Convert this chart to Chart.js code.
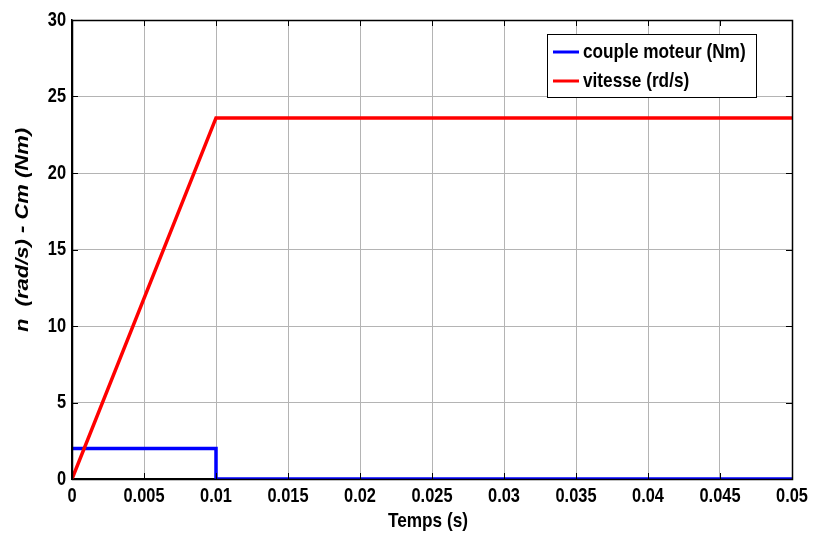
<!DOCTYPE html>
<html>
<head>
<meta charset="utf-8">
<script src="https://cdn.jsdelivr.net/npm/chart.js@4.4.1/dist/chart.umd.min.js"></script>
<style>
  html, body { margin: 0; padding: 0; background: #fff; }
  #wrap { width: 813px; height: 535px; }
</style>
</head>
<body>
<div id="wrap"><canvas id="motor_chart"></canvas></div>
<script>
// data
const coupleTime = [0, 0.01, 0.01, 0.05];
const coupleValues = [2, 2, 0, 0];
const vitesseTime = [0, 0.01, 0.05];
const vitesseValues = [0, 23.6, 23.6];

const xTicks = [0, 0.005, 0.01, 0.015, 0.02, 0.025, 0.03, 0.035, 0.04, 0.045, 0.05];
const xTickLabels = ['0', '0.005', '0.01', '0.015', '0.02', '0.025', '0.03', '0.035', '0.04', '0.045', '0.05'];
const yTicks = [0, 5, 10, 15, 20, 25, 30];
const yTickLabels = ['0', '5', '10', '15', '20', '25', '30'];

const seriesLabels = ['couple moteur (Nm)', 'vitesse (rd/s)'];
const seriesColors = ['#0000ff', '#ff0000'];
const xTitle = 'Temps (s)';
const yTitle = 'n  (rad/s) - Cm (Nm)';

const FONT = "'Liberation Sans', Arial, sans-serif";
const NARROW = 0.82; // the original figure uses a condensed face

function zip(xs, ys) {
    return xs.map(function (x, i) { return { x: x, y: ys[i] }; });
}

// narrow text helper
function narrowText(c, txt, x, y, font, align, rot) {
    c.save();
    c.translate(x, y);
    if (rot) {
        c.rotate(rot);
        c.scale(1, NARROW);
    } else {
        c.scale(NARROW, 1);
    }
    c.font = font;
    c.textAlign = align;
    c.textBaseline = 'middle';
    c.fillStyle = '#000';
    c.fillText(txt, 0, 0);
    c.restore();
}

// box + inward ticks + labels + legend, matlab style
const matlabBox = {
    id: 'matlabBox',
    afterDraw: function (chart) {
        const c = chart.ctx;
        const a = chart.chartArea;
        const xs = chart.scales.x, ys = chart.scales.y;
        c.save();
        c.strokeStyle = '#000';
        c.lineWidth = 1;
        c.beginPath();
        xTicks.forEach(function (v) {
            const px = Math.round(xs.getPixelForValue(v)) + 0.5;
            c.moveTo(px, a.bottom); c.lineTo(px, a.bottom - 6);
            c.moveTo(px, a.top); c.lineTo(px, a.top + 6);
        });
        yTicks.forEach(function (v) {
            const py = Math.round(ys.getPixelForValue(v)) + 0.5;
            c.moveTo(a.left, py); c.lineTo(a.left + 6, py);
            c.moveTo(a.right, py); c.lineTo(a.right - 6, py);
        });
        c.stroke();
        c.lineWidth = 1.5;
        c.strokeRect(Math.round(a.left) + 0.5, Math.round(a.top) + 0.5, Math.round(a.right - a.left), Math.round(a.bottom - a.top));

        // tick labels
        const tickFont = 'bold 20px ' + FONT;
        xTicks.forEach(function (v, i) {
            narrowText(c, xTickLabels[i], xs.getPixelForValue(v), a.bottom + 17, tickFont, 'center');
        });
        yTicks.forEach(function (v, i) {
            narrowText(c, yTickLabels[i], a.left - 6, ys.getPixelForValue(v), tickFont, 'right');
        });

        // axis titles
        narrowText(c, xTitle, (a.left + a.right) / 2 - 4, 521, 'bold 21px ' + FONT, 'center');
        narrowText(c, yTitle, 23, 230, 'italic bold 22px ' + FONT, 'center', -Math.PI / 2);

        // legend
        const lx = 547, ly = 34, lw = 209, lh = 63;
        c.fillStyle = '#fff';
        c.fillRect(lx, ly, lw, lh);
        c.strokeStyle = '#000';
        c.lineWidth = 1;
        c.strokeRect(lx + 0.5, ly + 0.5, lw, lh);
        seriesLabels.forEach(function (lab, i) {
            const yy = ly + 18 + i * 29;
            c.strokeStyle = seriesColors[i];
            c.lineWidth = 3;
            c.beginPath();
            c.moveTo(lx + 6, yy); c.lineTo(lx + 32, yy);
            c.stroke();
            narrowText(c, lab, lx + 36, yy, 'bold 21px ' + FONT, 'left');
        });
        c.restore();
    }
};

const ctx = document.getElementById('motor_chart').getContext('2d');
const motorChart = new Chart(ctx, {
    type: 'line',
    data: {
        datasets: [{
            label: seriesLabels[0],
            data: zip(coupleTime, coupleValues),
            borderColor: seriesColors[0],
            borderWidth: 3.5,
            pointRadius: 0,
            fill: false,
            order: 2
        }, {
            label: seriesLabels[1],
            data: zip(vitesseTime, vitesseValues),
            borderColor: seriesColors[1],
            borderWidth: 3.5,
            pointRadius: 0,
            fill: false,
            order: 1
        }]
    },
    options: {
        responsive: true,
        maintainAspectRatio: false,
        animation: false,
        layout: { padding: { top: 20, right: 21, left: 0, bottom: 0 } },
        plugins: {
            legend: { display: false },
            tooltip: { enabled: false }
        },
        scales: {
            x: {
                type: 'linear',
                min: 0,
                max: 0.05,
                afterBuildTicks: function (s) { s.ticks = xTicks.map(function (v) { return { value: v }; }); },
                afterFit: function (s) { s.height = 56; s.paddingLeft = 0; s.paddingRight = 0; },
                ticks: { display: false },
                grid: { color: '#b4b4b4', lineWidth: 1, drawTicks: false },
                border: { display: true, color: '#000', width: 1.5 }
            },
            y: {
                min: 0,
                max: 30,
                afterBuildTicks: function (s) { s.ticks = yTicks.map(function (v) { return { value: v }; }); },
                afterFit: function (s) { s.width = 72; s.paddingTop = 0; s.paddingBottom = 0; },
                ticks: { display: false },
                grid: { color: '#b4b4b4', lineWidth: 1, drawTicks: false },
                border: { display: true, color: '#000', width: 1.5 }
            }
        }
    },
    plugins: [matlabBox]
});
</script>
</body>
</html>
